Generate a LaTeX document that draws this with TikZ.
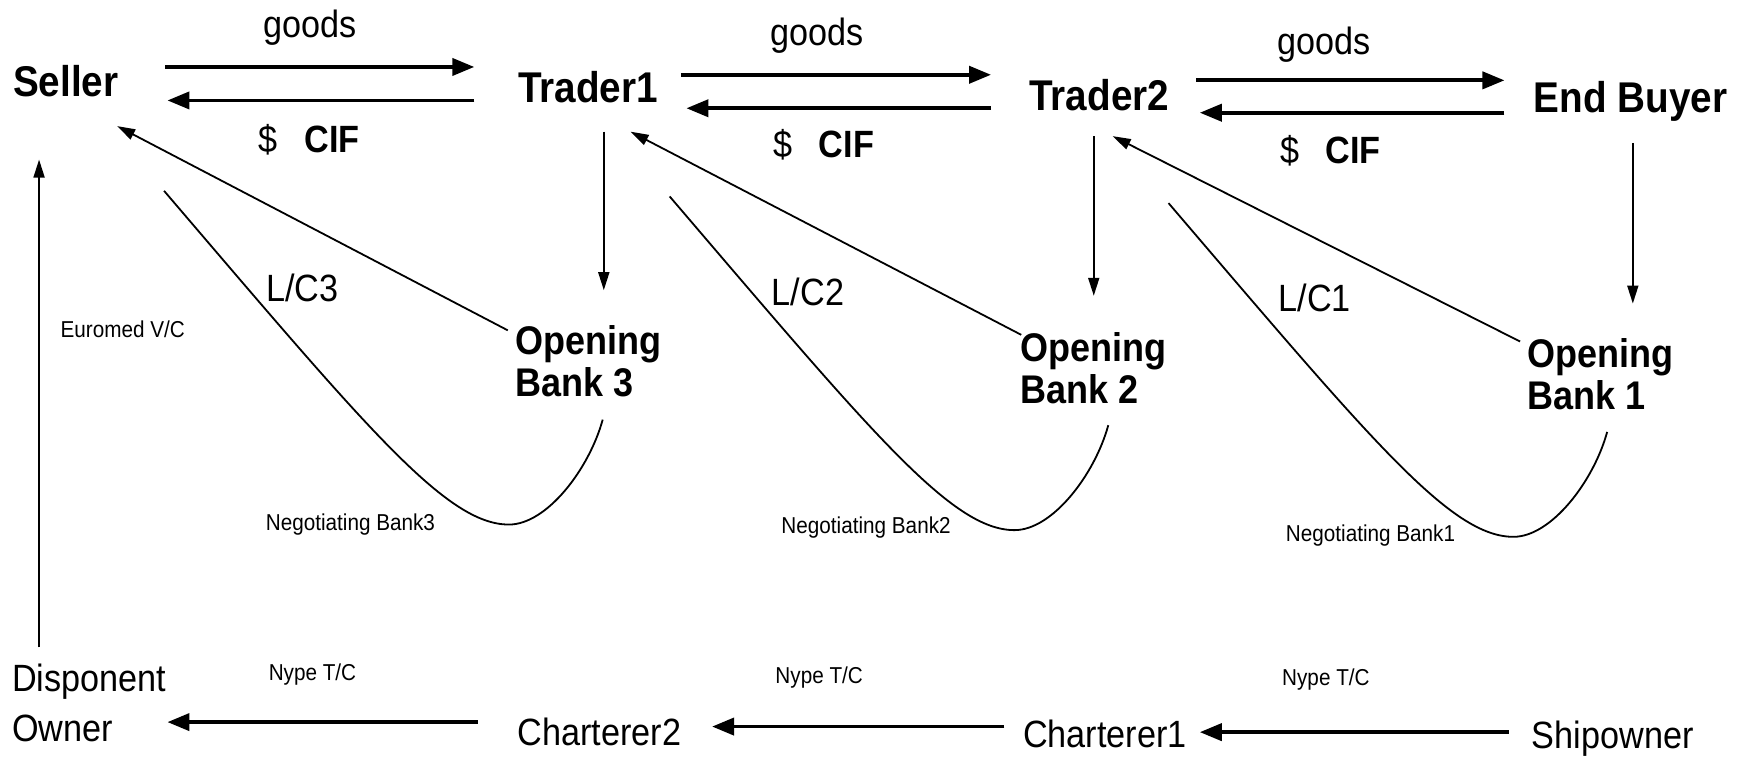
\documentclass[tikz,border=0pt]{standalone}
\usepackage{fontspec}
\setmainfont[FakeStretch=0.9]{Liberation Sans}
\usetikzlibrary{arrows.meta,calc}
\begin{document}
\begin{tikzpicture}[x=0.558pt,y=-0.558pt,
  big/.style={font=\fontsize{21.5}{24}\selectfont\bfseries, inner sep=0pt},
  bank/.style={font=\fontsize{20}{21}\selectfont\bfseries, align=left, inner sep=0pt},
  mid/.style={font=\fontsize{19}{22}\selectfont, inner sep=0pt},
  reg/.style={font=\fontsize{19}{25}\selectfont, align=left, inner sep=0pt},
  small/.style={font=\fontsize{11.5}{14}\selectfont, inner sep=0pt},
  fat/.style={line width=1.9pt, -{Triangle[length=11pt,width=8.5pt]}},
  thinarrow/.style={line width=0.9pt, -{Triangle[length=9pt,width=5.5pt]}},
  curveline/.style={line width=0.9pt}
]
\useasboundingbox (0,0) rectangle (1568,682);
% main parties
\node[big] (seller) at (59,73) {Seller};
\node[big] (trader1) at (527,78) {Trader1};
\node[big] (trader2) at (985,85) {Trader2};
\node[big] (endbuyer) at (1461,91) {End Buyer};
\node[bank] (ob3) at (527,324) {Opening\\Bank 3};
\node[bank] (ob2) at (980,330) {Opening\\Bank 2};
\node[bank] (ob1) at (1434,335) {Opening\\Bank 1};
\node[reg] (disponent) at (80,630) {Disponent\\Owner};
\node[reg] (charterer2) at (537,656) {Charterer2};
\node[reg] (charterer1) at (990,658) {Charterer1};
\node[reg] (shipowner) at (1445,662) {Shipowner};
% labels
\node[mid] (g1) at (278,25) {goods};
\node[mid] (g2) at (732,32) {goods};
\node[mid] (g3) at (1186,40) {goods};
\node[mid] (c1) at (277,125) {\$\hspace{0.7em}\textbf{CIF}};
\node[mid] (c2) at (738,130) {\$\hspace{0.7em}\textbf{CIF}};
\node[mid] (c3) at (1192,135) {\$\hspace{0.7em}\textbf{CIF}};
\node[mid] (lc3) at (271,258) {L/C3};
\node[mid] (lc2) at (724,262) {L/C2};
\node[mid] (lc1) at (1178,267) {L/C1};
\node[small] (nb3) at (314,470) {Negotiating Bank3};
\node[small] (nb2) at (776,473) {Negotiating Bank2};
\node[small] (nb1) at (1228,480) {Negotiating Bank1};
\node[small] (euromed) at (110,295) {Euromed V/C};
\node[small] (ny3) at (280,604) {Nype T/C};
\node[small] (ny2) at (734,607) {Nype T/C};
\node[small] (ny1) at (1188,609) {Nype T/C};
% goods / payment arrows
\draw[fat] ($(seller)+(89,-13)$) -- ($(trader1)+(-102,-18)$);
\draw[fat] ($(trader1)+(-102,12)$) -- ($(seller)+(91,17)$);
\draw[fat] ($(trader1)+(83,-11)$) -- ($(trader2)+(-97,-18)$);
\draw[fat] ($(trader2)+(-97,12)$) -- ($(trader1)+(88,19)$);
\draw[fat] ($(trader2)+(87,-13)$) -- ($(endbuyer)+(-113,-19)$);
\draw[fat] ($(endbuyer)+(-113,10)$) -- ($(trader2)+(90,16)$);
% buyers to opening banks
\draw[thinarrow] ($(trader1)+(14,40)$) -- ($(ob3)+(14,-64)$);
\draw[thinarrow] ($(trader2)+(-5,37)$) -- ($(ob2)+(0,-65)$);
\draw[thinarrow] ($(endbuyer)+(2,37)$) -- ($(ob1)+(29,-63)$);
% letters of credit
\draw[thinarrow] ($(ob3)+(-72,-28)$) -- ($(seller)+(46,40)$);
\draw[thinarrow] ($(ob2)+(-65,-30)$) -- ($(trader1)+(38,40)$);
\draw[thinarrow] ($(ob1)+(-72,-29)$) -- ($(trader2)+(12,37)$);
% negotiating bank curves
\draw[curveline] (147,171) .. controls (330,385) and (400,470) .. (456,470) .. controls (490,470) and (528,420) .. (540,376);
\begin{scope}[shift={(453,5)}]
\draw[curveline] (147,171) .. controls (330,385) and (400,470) .. (456,470) .. controls (490,470) and (528,420) .. (540,376);
\end{scope}
\begin{scope}[shift={(900,11)}]
\draw[curveline] (147,171) .. controls (330,385) and (400,470) .. (456,470) .. controls (490,470) and (528,420) .. (540,376);
\end{scope}
% voyage charter
\draw[thinarrow] ($(disponent)+(-45,-50)$) -- ($(seller)+(-24,70)$);
% time charters
\draw[fat] ($(charterer2)+(-109,-9)$) -- ($(disponent)+(70,17)$);
\draw[fat] ($(charterer1)+(-90,-7)$) -- ($(charterer2)+(101,-5)$);
\draw[fat] ($(shipowner)+(-93,-6)$) -- ($(charterer1)+(85,-2)$);
\end{tikzpicture}
\end{document}
